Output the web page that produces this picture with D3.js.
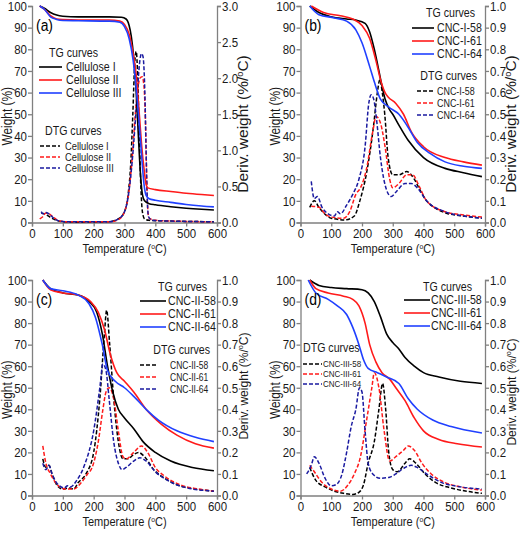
<!DOCTYPE html>
<html><head><meta charset="utf-8">
<script src="https://cdn.jsdelivr.net/npm/d3@7/dist/d3.min.js"></script>
<style>
body{margin:0;background:#fff;}
svg text{font-family:"Liberation Sans",Arial,sans-serif;}
</style></head>
<body>
<svg id="chart" width="520" height="536"></svg>
<script>
// ---------- DATA ----------
const xTicks = [0,100,200,300,400,500,600];
const yTicks = [0,10,20,30,40,50,60,70,80,90,100];
const panelLabels = ["(a)","(b)","(c)","(d)"];
const namesA = ["Cellulose I","Cellulose II","Cellulose III"];
const namesB = ["CNC-I-58","CNC-I-61","CNC-I-64"];
const namesC = ["CNC-II-58","CNC-II-61","CNC-II-64"];
const namesD = ["CNC-III-58","CNC-III-61","CNC-III-64"];
const derivMax = [3.0,1.0,1.0,1.0];
const derivStep = [0.5,0.1,0.1,0.1];

// Panel (a) TG  [temperature, weight %]
const tgA1 = [[25,100],[40,99],[60,97],[80,95.8],[100,95.3],[150,95],[250,95],[290,94.8],[305,94],[315,91],[322,86],[330,76],[338,60],[345,40],[352,22],[358,13],[365,10],[380,8.7],[400,8.2],[450,7.3],[500,6.6],[550,6.1],[590,5.8]];
const tgA2 = [[25,100],[40,98.5],[60,95.5],[80,94],[100,93.7],[150,93.5],[250,93.5],[285,93],[300,91.5],[315,87],[328,78],[338,68],[348,50],[356,35],[364,24],[370,17.5],[376,16],[400,15.2],[450,14.3],[500,13.5],[550,12.9],[590,12.5]];
const tgA3 = [[25,100],[40,98.5],[60,95],[80,93.8],[100,93.3],[150,93.2],[250,93],[285,92.5],[300,90.5],[315,85],[328,75],[338,62],[348,45],[356,30],[363,18],[370,12.5],[380,11],[400,10.3],[450,9.3],[500,8.3],[550,7.6],[590,7.2]];
// Panel (a) DTG [temperature, %/°C]
const dtgA1 = [[30,0.13],[40,0.12],[50,0.1],[60,0.07],[80,0.03],[100,0.01],[150,0.005],[250,0.01],[280,0.05],[300,0.15],[312,0.4],[320,0.8],[327,1.5],[333,2.2],[338,2.37],[343,2.0],[348,1.2],[353,0.5],[358,0.15],[365,0.05],[380,0.03],[450,0.02],[590,0.01]];
const dtgA2 = [[25,0.05],[35,0.08],[45,0.13],[55,0.12],[70,0.07],[90,0.02],[120,0.01],[250,0.01],[280,0.04],[300,0.15],[315,0.45],[325,0.9],[335,1.5],[343,1.85],[350,2.0],[357,2.02],[363,1.9],[368,1.4],[372,0.6],[376,0.15],[380,0.06],[400,0.03],[450,0.02],[590,0.01]];
const dtgA3 = [[30,0.15],[35,0.12],[45,0.14],[55,0.12],[70,0.06],[90,0.02],[120,0.01],[250,0.01],[280,0.05],[300,0.15],[315,0.45],[325,0.85],[335,1.4],[343,1.9],[350,2.25],[355,2.34],[360,2.3],[366,1.8],[370,1.0],[374,0.3],[378,0.08],[390,0.03],[450,0.02],[590,0.01]];

// Panel (b)
const tgB1 = [[30,100],[60,97],[100,95],[150,94],[180,93.5],[210,92],[225,88],[240,80],[255,70],[265,63],[275,57],[290,52],[300,50],[320,45],[350,38],[400,30],[470,25],[530,23],[590,21.2]];
const tgB2 = [[35,100],[75,97],[130,95.5],[170,94],[200,91],[225,85],[245,75],[262,65],[275,60],[285,58],[310,55],[335,50],[360,42],[400,35],[470,30],[530,28],[590,26.5]];
const tgB3 = [[30,100],[60,96],[110,94.5],[150,93],[180,89],[200,83],[225,72],[240,65],[260,57],[290,53],[320,50],[350,44],[380,37],[420,32],[470,28],[530,26],[590,25]];
const dtgB1 = [[30,0.07],[45,0.1],[60,0.07],[100,0.02],[145,0.012],[175,0.03],[193,0.1],[215,0.23],[237,0.44],[250,0.6],[258,0.66],[266,0.6],[274,0.5],[285,0.3],[300,0.22],[320,0.22],[345,0.235],[370,0.2],[385,0.16],[410,0.1],[440,0.065],[475,0.043],[530,0.03],[590,0.02]];
const dtgB2 = [[35,0.075],[60,0.07],[80,0.04],[100,0.025],[140,0.02],[160,0.05],[180,0.13],[195,0.16],[215,0.25],[235,0.42],[246,0.49],[260,0.46],[275,0.35],[290,0.2],[300,0.16],[320,0.18],[345,0.22],[365,0.22],[385,0.17],[410,0.1],[470,0.05],[530,0.035],[590,0.025]];
const dtgB3 = [[35,0.19],[45,0.11],[55,0.12],[70,0.07],[90,0.04],[110,0.03],[120,0.05],[130,0.04],[150,0.08],[170,0.13],[190,0.2],[210,0.35],[222,0.55],[230,0.59],[238,0.57],[247,0.48],[260,0.3],[280,0.15],[295,0.12],[310,0.14],[340,0.18],[360,0.18],[380,0.16],[410,0.1],[470,0.05],[530,0.03],[590,0.02]];

// Panel (c)
const tgC1 = [[35,100],[60,96],[100,94],[150,93],[185,90],[210,85],[228,75],[245,60],[262,48],[280,40],[300,36],[330,31],[360,25],[400,20],[450,16],[520,13],[590,11.5]];
const tgC2 = [[35,100],[60,95.5],[100,94],[150,93],[190,90],[215,85],[235,77],[255,65],[275,57],[300,53],[330,48],[370,40],[420,33],[470,28],[530,24],[590,22]];
const tgC3 = [[35,100],[60,96],[100,95],[150,93],[185,89],[205,83],[228,70],[245,58],[270,53],[300,50],[330,46],[370,40],[410,35],[470,30],[530,27],[590,25]];
const dtgC1 = [[35,0.17],[45,0.13],[55,0.14],[65,0.1],[80,0.05],[100,0.03],[120,0.035],[135,0.03],[150,0.06],[175,0.1],[200,0.2],[220,0.45],[235,0.75],[242,0.86],[252,0.7],[265,0.45],[280,0.25],[295,0.17],[310,0.17],[330,0.19],[345,0.2],[365,0.18],[395,0.12],[430,0.08],[470,0.05],[530,0.03],[590,0.02]];
const dtgC2 = [[35,0.23],[45,0.15],[60,0.1],[90,0.04],[110,0.03],[135,0.03],[160,0.06],[180,0.1],[195,0.13],[215,0.25],[230,0.4],[240,0.48],[250,0.5],[265,0.45],[280,0.3],[295,0.18],[305,0.17],[330,0.2],[355,0.23],[375,0.2],[400,0.13],[430,0.09],[480,0.05],[540,0.03],[590,0.02]];
const dtgC3 = [[35,0.15],[45,0.12],[55,0.14],[65,0.1],[85,0.05],[105,0.035],[115,0.045],[125,0.04],[145,0.07],[170,0.14],[200,0.3],[220,0.5],[230,0.61],[240,0.58],[250,0.45],[265,0.25],[280,0.15],[292,0.12],[305,0.13],[330,0.16],[350,0.175],[370,0.16],[400,0.11],[440,0.07],[490,0.04],[590,0.02]];

// Panel (d)
const tgD1 = [[30,100],[60,97.5],[100,96.5],[150,96],[200,95.5],[220,94],[240,90],[260,83],[280,75],[300,71],[320,68],[340,64],[370,60],[400,57],[450,55],[520,53],[590,52]];
const tgD2 = [[30,100],[50,96],[90,94],[140,92.5],[170,91],[190,88],[210,80],[225,70],[245,62],[265,57],[290,54],[310,50],[340,44],[370,36],[400,30],[450,26],[510,24],[590,22.5]];
const tgD3 = [[25,100],[50,94],[90,91],[120,88],[150,84],[170,78],[190,70],[205,63],[220,59],[250,57],[280,55],[320,52],[350,45],[380,40],[430,35],[490,32],[590,29]];
const dtgD1 = [[30,0.13],[50,0.07],[80,0.04],[110,0.02],[140,0.01],[170,0.005],[190,0.015],[205,0.05],[220,0.15],[240,0.25],[255,0.4],[267,0.52],[277,0.4],[287,0.2],[300,0.12],[315,0.11],[340,0.15],[355,0.17],[375,0.15],[405,0.1],[440,0.06],[490,0.035],[540,0.02],[590,0.01]];
const dtgD2 = [[30,0.14],[45,0.11],[70,0.06],[100,0.03],[130,0.02],[155,0.05],[175,0.1],[195,0.18],[215,0.35],[232,0.5],[240,0.57],[255,0.5],[272,0.3],[290,0.16],[310,0.18],[335,0.21],[350,0.23],[370,0.21],[395,0.15],[425,0.1],[470,0.06],[520,0.04],[590,0.025]];
const dtgD3 = [[20,0.1],[35,0.14],[45,0.18],[60,0.15],[80,0.08],[100,0.045],[115,0.05],[135,0.1],[150,0.2],[165,0.32],[180,0.4],[192,0.5],[200,0.48],[210,0.3],[220,0.15],[235,0.1],[260,0.08],[290,0.085],[310,0.1],[340,0.13],[360,0.14],[380,0.13],[410,0.1],[460,0.06],[520,0.04],[590,0.03]];

// ---------- STYLE / LAYOUT ----------
const tgColors = ["#000000","#ff1a1a","#2040ff"];
const dtgColors = ["#000000","#ff1a1a","#1a1aa0"];
const axisColor = "#808080";
const textColor = "#1a1a1a";
const SX = 0.85; // narrow glyphs like the reference
const panels = [
  {x0:32,x1:217,y0:6,y1:222.5, tg:[tgA1,tgA2,tgA3], dtg:[dtgA1,dtgA2,dtgA3], names:namesA, deriv:[14.5,1.07,124],
   leg:{tgTitle:[49,53,"start"], tgRows:[67,80,93], tgLine:[39,62], tgText:66, dtgTitle:[45,131,"start"], dtgRows:[146,157,168], dtgLine:[40,60], dtgText:65, tgSize:12.5, titleSize:12.5, dtgSize:11}},
  {x0:300.5,x1:485,y0:6,y1:222.5, tg:[tgB1,tgB2,tgB3], dtg:[dtgB1,dtgB2,dtgB3], names:namesB, deriv:[14.5,1.07,124],
   leg:{tgTitle:[475,13,"end"], tgRows:[28,41,54], tgLine:[412,434], tgText:437, dtgTitle:[477,76,"end"], dtgRows:[91,103,115], dtgLine:[417,433], dtgText:437, tgSize:12.5, titleSize:12.5, dtgSize:10.5}},
  {x0:32,x1:217,y0:280,y1:495.5, tg:[tgC1,tgC2,tgC3], dtg:[dtgC1,dtgC2,dtgC3], names:namesC, deriv:[13,0.93,386],
   leg:{tgTitle:[207,287,"end"], tgRows:[301,314,327], tgLine:[140,166], tgText:168, dtgTitle:[210,350,"end"], dtgRows:[365,377,389], dtgLine:[140,157], dtgText:170, tgSize:12.5, titleSize:12.5, dtgSize:10}},
  {x0:300.5,x1:485,y0:280,y1:495.5, tg:[tgD1,tgD2,tgD3], dtg:[dtgD1,dtgD2,dtgD3], names:namesD, deriv:[13,0.93,392],
   leg:{tgTitle:[472,287,"end"], tgRows:[300,313,326], tgLine:[404,430], tgText:431, dtgTitle:[303,348,"start"], dtgRows:[364,374,384], dtgLine:[303,322], dtgText:323, tgSize:12.5, titleSize:12.5, dtgSize:9.4}}
];

const svg = d3.select("#chart");

// horizontal text with narrow glyphs
function htext(g, x, y, size, anchor, sx){
  return g.append("text").attr("transform",`translate(${x},${y}) scale(${sx||SX},1)`)
    .attr("text-anchor",anchor||"start").attr("font-size",size+"px").attr("fill",textColor);
}
function vtext(g, x, y, size, sx){
  return g.append("text").attr("transform",`translate(${x},${y}) rotate(-90) scale(${sx},1)`)
    .attr("text-anchor","middle").attr("font-size",size+"px").attr("fill",textColor);
}
function supLabel(t, pre, post, sz){
  t.append("tspan").text(pre);
  t.append("tspan").attr("baseline-shift","super").attr("font-size",sz+"px").text("o");
  t.append("tspan").text(post);
}

panels.forEach((p,i)=>{
  const x = d3.scaleLinear().domain([0,600]).range([p.x0,p.x1]);
  const y = d3.scaleLinear().domain([0,100]).range([p.y1,p.y0]);
  const y2 = d3.scaleLinear().domain([0,derivMax[i]]).range([p.y1,p.y0]);
  const g = svg.append("g");

  // axes
  const ax = g.append("g").attr("transform",`translate(0,${p.y1})`)
    .call(d3.axisBottom(x).tickValues(xTicks).tickSize(4).tickPadding(2));
  const ay = g.append("g").attr("transform",`translate(${p.x0},0)`)
    .call(d3.axisLeft(y).tickValues(yTicks).tickSize(4).tickPadding(2));
  const r2 = d3.range(0, Math.round(derivMax[i]/derivStep[i])+1).map(k=>+(k*derivStep[i]).toFixed(2));
  const ar = g.append("g").attr("transform",`translate(${p.x1},0)`)
    .call(d3.axisRight(y2).tickValues(r2).tickFormat(d3.format(".1f")).tickSize(4).tickPadding(2));
  [ax,ay,ar].forEach(a=>{
    a.select(".domain").attr("stroke",axisColor).attr("stroke-width",1.3);
    a.selectAll(".tick line").attr("stroke",axisColor).attr("stroke-width",1.3);
    a.selectAll(".tick text").attr("font-size","13.5px").attr("fill",textColor)
      .attr("font-family","'Liberation Sans',Arial,sans-serif")
      .attr("transform",`scale(${SX},1)`);
  });

  // curves
  const lineTG = d3.line().x(d=>x(d[0])).y(d=>y(d[1])).curve(d3.curveMonotoneX);
  const lineD = d3.line().x(d=>x(d[0])).y(d=>y2(d[1])).curve(d3.curveMonotoneX);
  p.dtg.forEach((s,k)=>{
    g.append("path").attr("d",lineD(s)).attr("fill","none").attr("stroke",dtgColors[k])
      .attr("stroke-width",1.5).attr("stroke-dasharray","4,2");
  });
  p.tg.forEach((s,k)=>{
    g.append("path").attr("d",lineTG(s)).attr("fill","none").attr("stroke",tgColors[k])
      .attr("stroke-width",1.6);
  });

  // axis titles
  const cx = (p.x0+p.x1)/2, cy=(p.y0+p.y1)/2;
  supLabel(htext(g, cx, p.y1+30.5, 13, "middle"), "Temperature (", "C)", 8);
  vtext(g, p.x0-20.5, cy+2, 14, SX).text("Weight (%)");
  supLabel(vtext(g, p.x1+30.5, p.deriv[2], p.deriv[0], p.deriv[1]), "Deriv. weight (%/", "C)", p.deriv[0]*0.6);

  // panel label
  htext(g, p.x0+4, p.y0+25, 16, "start", 0.87).attr("fill","#000").text(panelLabels[i]);

  // legends
  const L = p.leg;
  htext(g, L.tgTitle[0], L.tgTitle[1], L.titleSize, L.tgTitle[2]).attr("dy","0.35em").text("TG curves");
  p.names.forEach((n,k)=>{
    g.append("line").attr("x1",L.tgLine[0]).attr("x2",L.tgLine[1]).attr("y1",L.tgRows[k]).attr("y2",L.tgRows[k])
      .attr("stroke",tgColors[k]).attr("stroke-width",1.6);
    htext(g, L.tgText, L.tgRows[k], L.tgSize, "start").attr("dy","0.35em").text(n);
  });
  htext(g, L.dtgTitle[0], L.dtgTitle[1], L.titleSize, L.dtgTitle[2]).attr("dy","0.35em").text("DTG curves");
  p.names.forEach((n,k)=>{
    g.append("line").attr("x1",L.dtgLine[0]).attr("x2",L.dtgLine[1]).attr("y1",L.dtgRows[k]).attr("y2",L.dtgRows[k])
      .attr("stroke",dtgColors[k]).attr("stroke-width",1.5).attr("stroke-dasharray","4,2");
    htext(g, L.dtgText, L.dtgRows[k], L.dtgSize, "start").attr("dy","0.35em").text(n);
  });
});
</script>
</body></html>
